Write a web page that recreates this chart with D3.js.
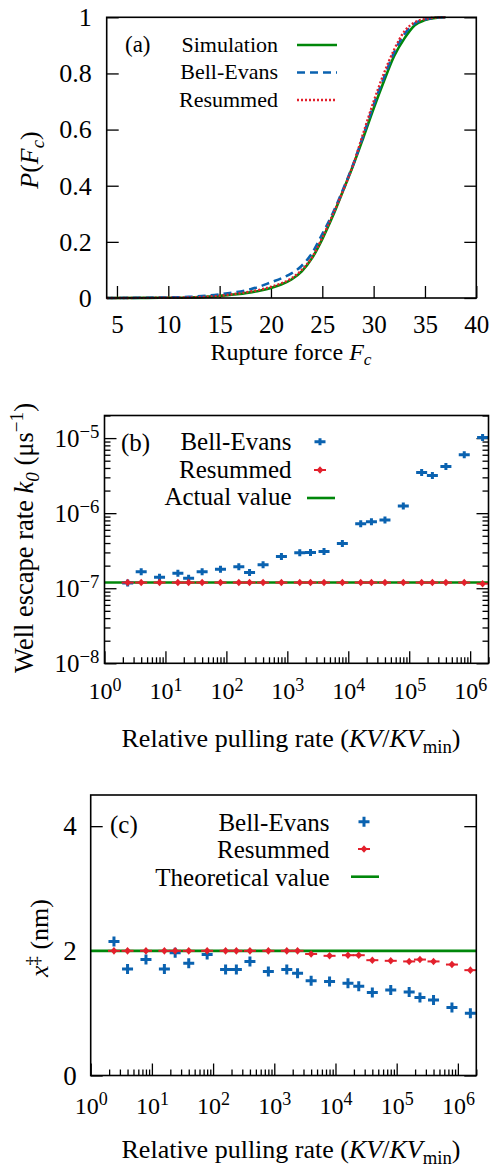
<!DOCTYPE html>
<html>
<head>
<meta charset="utf-8">
<script src="https://cdn.jsdelivr.net/npm/d3@7"></script>
<style>
body { margin: 0; background: #fff; }
svg text { font-family: 'Liberation Serif', 'Times New Roman', Times, serif; fill: #000; }
</style>
</head>
<body>
<div id="chart"></div>
<script>
// (a) cumulative distribution of rupture force
let force  = [4, 8, 10, 12, 14, 16, 18, 19, 20, 21, 22, 23, 24, 25, 26, 27, 28, 29, 30, 31, 32, 33, 34, 35, 36, 37];
let p_sim  = [0, 0.0005, 0.001, 0.002, 0.005, 0.011, 0.02, 0.027, 0.036, 0.048, 0.066, 0.095, 0.142, 0.21, 0.29, 0.38, 0.472, 0.572, 0.675, 0.772, 0.862, 0.925, 0.972, 0.99, 0.998, 1];
let p_bell = [0, 0.001, 0.002, 0.004, 0.009, 0.018, 0.031, 0.042, 0.056, 0.07, 0.088, 0.115, 0.16, 0.228, 0.3, 0.385, 0.475, 0.58, 0.688, 0.785, 0.875, 0.94, 0.978, 0.992, 0.998, 1];
let p_res  = [0, 0.0005, 0.001, 0.002, 0.005, 0.012, 0.023, 0.03, 0.04, 0.052, 0.07, 0.1, 0.145, 0.215, 0.295, 0.38, 0.474, 0.588, 0.7, 0.8, 0.885, 0.95, 0.982, 0.994, 0.999, 1];

// (b), (c) fitted parameters vs relative pulling rate
let rate = [2.4, 4, 8, 16, 24, 40, 80, 160, 240, 400, 800, 1600, 2400, 4000, 8000,
            16000, 24000, 40000, 80000, 160000, 240000, 400000, 800000, 1600000];
let k0_bell = [1.17e-7, 1.66e-7, 1.40e-7, 1.58e-7, 1.36e-7, 1.66e-7, 1.79e-7, 1.94e-7, 1.62e-7, 2.05e-7, 2.64e-7, 2.96e-7,
               2.99e-7, 3.08e-7, 3.94e-7, 7.2e-7, 7.7e-7, 8.1e-7, 1.25e-6, 3.48e-6, 3.17e-6, 4.18e-6, 5.98e-6, 1.02e-5];
let k0_res  = [1.19e-7, 1.19e-7, 1.19e-7, 1.19e-7, 1.19e-7, 1.19e-7, 1.19e-7, 1.19e-7, 1.19e-7, 1.19e-7, 1.19e-7, 1.19e-7,
               1.19e-7, 1.19e-7, 1.19e-7, 1.19e-7, 1.19e-7, 1.19e-7, 1.19e-7, 1.19e-7, 1.19e-7, 1.19e-7, 1.19e-7, 1.15e-7];
let k0_actual = 1.19e-7;
let xd_bell = [2.15, 1.71, 1.86, 1.71, 1.97, 1.80, 1.94, 1.70, 1.70, 1.83, 1.67, 1.70,
               1.64, 1.52, 1.51, 1.48, 1.43, 1.33, 1.37, 1.34, 1.25, 1.21, 1.09, 1.00];
let xd_res  = [2.0, 2.0, 2.0, 2.0, 2.0, 2.0, 2.0, 2.0, 2.0, 2.0, 2.0, 2.0,
               2.0, 1.95, 1.92, 1.93, 1.93, 1.85, 1.84, 1.83, 1.86, 1.83, 1.78, 1.69];
let xd_theory = 2;

let a_xticks = [5, 10, 15, 20, 25, 30, 35, 40];
let a_yticks = [0, 0.2, 0.4, 0.6, 0.8, 1];
let b_yticks = [1e-8, 1e-7, 1e-6, 1e-5];
let c_yticks = [0, 2, 4];
let rate_ticks = [1, 10, 100, 1e3, 1e4, 1e5, 1e6];

let green = '#00870a', blue = '#0a62b0', red = '#e3202c';
let font = "'Liberation Serif', 'Times New Roman', Times, serif";

let svg = d3.select('#chart')
            .append('svg')
            .attr('width', 495)
            .attr('height', 1168)
            .attr('font-family', font)
            .style('background', '#fff');

// small helpers
function axis(g, ax, size) {
  g.call(ax)
   .attr('font-size', size)
   .attr('font-family', font)
   .call(g => g.select('.domain').remove())
   .call(g => g.selectAll('.tick line').attr('stroke', '#000').attr('stroke-width', 1.3))
   .call(g => g.selectAll('.tick text').attr('fill', '#000'));
  return g;
}

function powLabels(g) {
  g.selectAll('.tick text').each(function(d) {
    let t = d3.select(this);
    let e = Math.round(Math.log10(d));
    t.text(null);
    t.append('tspan').text('10');
    t.append('tspan').attr('dy', '-0.48em').attr('font-size', '0.75em').text(e < 0 ? '\u2212' + (-e) : e);
  });
}

function frame(x, y) {
  svg.append('rect')
     .attr('x', x.range()[0]).attr('y', y.range()[1])
     .attr('width', x.range()[1] - x.range()[0])
     .attr('height', y.range()[0] - y.range()[1])
     .attr('fill', 'none').attr('stroke', '#000').attr('stroke-width', 1.6);
}

function plusMark(g, xs, ys, w, h, sw) {
  g.selectAll(null).data(d3.range(xs.length)).enter()
   .append('path')
   .attr('d', 'M' + (-w) + ',0H' + w + 'M0,' + (-h) + 'V' + h)
   .attr('transform', i => 'translate(' + xs[i] + ',' + ys[i] + ')')
   .attr('stroke', blue).attr('stroke-width', sw).attr('fill', 'none');
}

function diamondMark(g, xs, ys) {
  let s = g.selectAll(null).data(d3.range(xs.length)).enter()
           .append('g')
           .attr('transform', i => 'translate(' + xs[i] + ',' + ys[i] + ')');
  s.append('path').attr('d', 'M-6,0H6').attr('stroke', red).attr('stroke-width', 2);
  s.append('path').attr('d', 'M0,-3.8L3.4,0L0,3.8L-3.4,0Z').attr('fill', red);
}

// ---------- panel (a) ----------
let ax = d3.scaleLinear().domain([4, 40]).range([106.7, 476.3]);
let ay = d3.scaleLinear().domain([0, 1]).range([298, 17.3]);

axis(svg.append('g').attr('transform', 'translate(0,298)'),
     d3.axisBottom(ax).tickValues(a_xticks).tickSize(-12).tickPadding(17).tickFormat(d => d), 25);
axis(svg.append('g').attr('transform', 'translate(106.7,0)'),
     d3.axisLeft(ay).tickValues(a_yticks).tickSize(-12).tickPadding(15).tickFormat(d => d), 26);
axis(svg.append('g').attr('transform', 'translate(476.3,0)'),
     d3.axisLeft(ay).tickValues(a_yticks).tickSize(12).tickFormat(''), 26);

let a_line = (ps) => d3.line().curve(d3.curveMonotoneX)
                       .x((d, i) => ax(force[i])).y(d => ay(d))(ps);

svg.append('path').attr('d', a_line(p_sim)).attr('fill', 'none')
   .attr('stroke', green).attr('stroke-width', 2.6);
svg.append('path').attr('d', a_line(p_bell)).attr('fill', 'none')
   .attr('stroke', blue).attr('stroke-width', 2.6).attr('stroke-dasharray', '8,5');
svg.append('path').attr('d', a_line(p_res)).attr('fill', 'none')
   .attr('stroke', red).attr('stroke-width', 2.4).attr('stroke-dasharray', '2,2');
frame(ax, ay);

// legend (a)
svg.append('text').attr('x', 125).attr('y', 51.5).attr('font-size', 23).text('(a)');
let a_leg = [['Simulation', green, null], ['Bell-Evans', blue, '8,5'], ['Resummed', red, '2,2']];
a_leg.forEach((l, i) => {
  let yy = 45 + i * 27.5;
  svg.append('text').attr('x', 278).attr('y', yy + 6.5).attr('text-anchor', 'end')
     .attr('font-size', 22).text(l[0]);
  svg.append('line').attr('x1', 297).attr('x2', 337).attr('y1', yy).attr('y2', yy)
     .attr('stroke', l[1]).attr('stroke-width', 2.6).attr('stroke-dasharray', l[2]);
});

// titles (a)
let at = svg.append('text').attr('x', 291).attr('y', 360).attr('text-anchor', 'middle').attr('font-size', 24);
at.append('tspan').text('Rupture force ');
at.append('tspan').attr('font-style', 'italic').text('F');
at.append('tspan').attr('font-style', 'italic').attr('font-size', '0.72em').attr('dy', '0.3em').text('c');

let ayt = svg.append('text').attr('transform', 'translate(38,160) rotate(-90)')
             .attr('text-anchor', 'middle').attr('font-size', 26);
ayt.append('tspan').attr('font-style', 'italic').text('P');
ayt.append('tspan').text('(');
ayt.append('tspan').attr('font-style', 'italic').text('F');
ayt.append('tspan').attr('font-style', 'italic').attr('font-size', '0.72em').attr('dy', '0.3em').text('c');
ayt.append('tspan').attr('dy', '-0.22em').text(')');

// ---------- panel (b) ----------
let bx = d3.scaleLog().domain([1, 2e6]).range([104.5, 488.5]);
let by = d3.scaleLog().domain([1e-8, 2e-5]).range([663.3, 415.5]);
let bx_minor = bx.ticks().filter(d => rate_ticks.indexOf(d) < 0);
let by_minor = by.ticks().filter(d => b_yticks.indexOf(d) < 0);

powLabels(axis(svg.append('g').attr('transform', 'translate(0,663.3)'),
     d3.axisBottom(bx).tickValues(rate_ticks).tickSize(-12).tickPadding(19), 24));
axis(svg.append('g').attr('transform', 'translate(0,663.3)'),
     d3.axisBottom(bx).tickValues(bx_minor).tickSize(-6).tickFormat(''), 24);
powLabels(axis(svg.append('g').attr('transform', 'translate(104.5,0)'),
     d3.axisLeft(by).tickValues(b_yticks).tickSize(-12).tickPadding(5), 25));
axis(svg.append('g').attr('transform', 'translate(104.5,0)'),
     d3.axisLeft(by).tickValues(by_minor).tickSize(-6).tickFormat(''), 24);
axis(svg.append('g').attr('transform', 'translate(488.5,0)'),
     d3.axisLeft(by).tickValues(b_yticks).tickSize(12).tickFormat(''), 24);
axis(svg.append('g').attr('transform', 'translate(488.5,0)'),
     d3.axisLeft(by).tickValues(by_minor).tickSize(6).tickFormat(''), 24);

svg.append('line').attr('x1', bx(1)).attr('x2', bx(2e6))
   .attr('y1', by(k0_actual)).attr('y2', by(k0_actual))
   .attr('stroke', green).attr('stroke-width', 2.6);
plusMark(svg.append('g'), rate.map(bx), k0_bell.map(by), 5.5, 3.5, 3);
diamondMark(svg.append('g'), rate.map(bx), k0_res.map(by));
frame(bx, by);

// legend (b)
svg.append('text').attr('x', 121).attr('y', 450.5).attr('font-size', 25).text('(b)');
let b_leg = ['Bell-Evans', 'Resummed', 'Actual value'];
b_leg.forEach((l, i) => {
  svg.append('text').attr('x', 291.5).attr('y', 450 + i * 27.5).attr('text-anchor', 'end')
     .attr('font-size', 25).text(l);
});
plusMark(svg.append('g'), [320], [441.7], 5.5, 3.5, 3);
diamondMark(svg.append('g'), [320], [470]);
svg.append('line').attr('x1', 307).attr('x2', 335).attr('y1', 498).attr('y2', 498)
   .attr('stroke', green).attr('stroke-width', 2.6);

// titles (b)
function rateTitle(y) {
  let t = svg.append('text').attr('x', 291).attr('y', y).attr('text-anchor', 'middle').attr('font-size', 26);
  t.append('tspan').text('Relative pulling rate (');
  t.append('tspan').attr('font-style', 'italic').text('KV');
  t.append('tspan').text('/');
  t.append('tspan').attr('font-style', 'italic').text('KV');
  t.append('tspan').attr('font-size', '0.72em').attr('dy', '0.3em').text('min');
  t.append('tspan').attr('dy', '-0.22em').text(')');
}
rateTitle(747);

let byt = svg.append('text').attr('transform', 'translate(33,538) rotate(-90)')
             .attr('text-anchor', 'middle').attr('font-size', 26.5);
byt.append('tspan').text('Well escape rate ');
byt.append('tspan').attr('font-style', 'italic').text('k');
byt.append('tspan').attr('font-style', 'italic').attr('font-size', '0.72em').attr('dy', '0.3em').text('0');
byt.append('tspan').attr('dy', '-0.22em').text(' (\u03bcs');
byt.append('tspan').attr('font-size', '0.72em').attr('dy', '-0.5em').text('\u22121');
byt.append('tspan').attr('dy', '0.36em').text(')');

// ---------- panel (c) ----------
let cx = d3.scaleLog().domain([1, 2e6]).range([90.7, 476.3]);
let cy = d3.scaleLinear().domain([0, 4.5]).range([1075.5, 795]);
let cx_minor = cx.ticks().filter(d => rate_ticks.indexOf(d) < 0);

powLabels(axis(svg.append('g').attr('transform', 'translate(0,1075.5)'),
     d3.axisBottom(cx).tickValues(rate_ticks).tickSize(-12).tickPadding(21), 24));
axis(svg.append('g').attr('transform', 'translate(0,1075.5)'),
     d3.axisBottom(cx).tickValues(cx_minor).tickSize(-6).tickFormat(''), 24);
axis(svg.append('g').attr('transform', 'translate(90.7,0)'),
     d3.axisLeft(cy).tickValues(c_yticks).tickSize(-12).tickPadding(14).tickFormat(d => d), 27);
axis(svg.append('g').attr('transform', 'translate(476.3,0)'),
     d3.axisLeft(cy).tickValues(c_yticks).tickSize(12).tickFormat(''), 27);

svg.append('line').attr('x1', cx(1)).attr('x2', cx(2e6))
   .attr('y1', cy(xd_theory)).attr('y2', cy(xd_theory))
   .attr('stroke', green).attr('stroke-width', 2.6);
plusMark(svg.append('g'), rate.map(cx), xd_bell.map(cy), 5.5, 5, 3);
diamondMark(svg.append('g'), rate.map(cx), xd_res.map(cy));
frame(cx, cy);

// legend (c)
svg.append('text').attr('x', 110).attr('y', 833).attr('font-size', 25).text('(c)');
let c_leg = ['Bell-Evans', 'Resummed', 'Theoretical value'];
c_leg.forEach((l, i) => {
  svg.append('text').attr('x', 329.5).attr('y', 830.5 + i * 27.7).attr('text-anchor', 'end')
     .attr('font-size', 25).text(l);
});
plusMark(svg.append('g'), [364], [821.7], 5.5, 5, 3);
diamondMark(svg.append('g'), [364], [849]);
svg.append('line').attr('x1', 351).attr('x2', 379).attr('y1', 876.7).attr('y2', 876.7)
   .attr('stroke', green).attr('stroke-width', 2.6);

// titles (c)
rateTitle(1158);
let cyt = svg.append('text').attr('transform', 'translate(48,938) rotate(-90)')
             .attr('text-anchor', 'middle').attr('font-size', 26);
cyt.append('tspan').attr('font-style', 'italic').text('x');
cyt.append('tspan').attr('font-size', '0.72em').attr('dy', '-0.5em').text('\u2021');
cyt.append('tspan').attr('dy', '0.36em').text(' (nm)');
</script>
</body>
</html>
